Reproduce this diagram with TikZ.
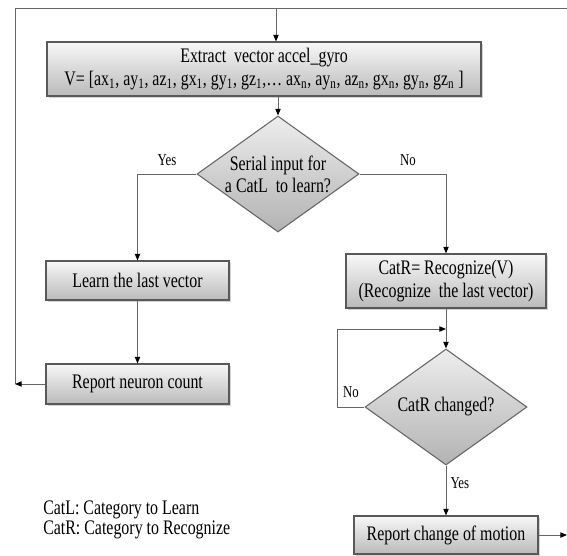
\documentclass[tikz,border=0pt]{standalone}
\usepackage{fontspec}
\setmainfont{Liberation Serif}[FakeStretch=0.77]
\usetikzlibrary{shapes.geometric,arrows.meta,shadows}

\begin{document}
\begin{tikzpicture}[
    x=0.75pt, y=-0.75pt,
    proc/.style={rectangle, draw=black!65, line width=0.8pt, top color=black!3, bottom color=black!27,
        drop shadow={shadow xshift=1.2pt, shadow yshift=-1.2pt, opacity=0.35},
        align=center, inner sep=0pt, font=\fontsize{15.5}{17.5}\selectfont},
    decision/.style={diamond, draw=black!60, line width=0.8pt, top color=black!7, bottom color=black!30,
        align=center, inner sep=0pt, aspect=1.4, minimum width=121.5pt, minimum height=87pt,
        font=\fontsize{15.5}{16.5}\selectfont},
    wire/.style={draw=black!60, line width=0.75pt},
    flow/.style={wire, -{Triangle[length=5pt,width=4pt,color=black]}},
    lbl/.style={font=\fontsize{12.5}{14}\selectfont, inner sep=1pt}
    ]
	\useasboundingbox (0,0) rectangle (567,556);
	% boxes and decisions
	\node [proc, minimum width=325.5pt, minimum height=40.5pt] (extract) at (264,69)
		{Extract\ \ vector accel\_gyro\\
		 V= [ax\textsubscript{1}, ay\textsubscript{1}, az\textsubscript{1}, gx\textsubscript{1}, gy\textsubscript{1}, gz\textsubscript{1},\dots\ ax\textsubscript{n}, ay\textsubscript{n}, az\textsubscript{n}, gx\textsubscript{n}, gy\textsubscript{n}, gz\textsubscript{n} ]};
	\node [decision] (serial) at (278,174) {Serial input for\\a CatL\ \ to learn?};
	\node [proc, minimum width=137.25pt, minimum height=29.25pt] (learn) at (137.5,280.5) {Learn the last vector};
	\node [proc, minimum width=137.25pt, minimum height=30pt] (neuron) at (137.5,384) {Report neuron count};
	\node [proc, minimum width=150pt, minimum height=40.5pt] (catr) at (446,281) {CatR= Recognize(V)\\(Recognize\ \ the last vector)};
	\node [decision] (changed) at (446,407) {CatR changed?};
	\node [proc, minimum width=138pt, minimum height=28.5pt] (motion) at (446,535) {Report change of motion};
	\node [anchor=west, align=left, inner sep=0pt, font=\fontsize{15.5}{13.5}\selectfont] (legend) at (43,520)
		{CatL: Category to Learn\\CatR: Category to Recognize};
	% feedback loop points
	\coordinate (topleft) at (15,9);
	\coordinate (topright) at (567,9);
	\coordinate (topjoin) at (276,9);
	\coordinate (feedback) at (15,384);
	\coordinate (loopx) at (337,329);
	\coordinate (exit) at (567,537);
	% connectors
	\draw [wire] (feedback) -- (topleft) -- (topright);
	\draw [flow] (topjoin) -- (topjoin |- extract.north);
	\draw [flow] (serial.north |- extract.south) -- (serial.north);
	\draw [flow] (serial.west) -| (learn.north) node [lbl, pos=0.25, above=5pt] {Yes};
	\draw [flow] (serial.east) -| (catr.north) node [lbl, pos=0.28, above=5pt] {No};
	\draw [flow] (learn.south) -- (neuron.north);
	\draw [flow] (neuron.west) -- (feedback);
	\draw [flow] (catr.south) -- (changed.north);
	\draw [flow] (changed.west) -| (loopx) -- (catr.south |- loopx);
	\node [lbl] (nolabel) at (351,392) {No};
	\draw [flow] (changed.south) -- (motion.north) node [lbl, pos=0.35, right=2pt] {Yes};
	\draw [flow] (motion.east) -- (motion.east -| exit);
\end{tikzpicture}
\end{document}
